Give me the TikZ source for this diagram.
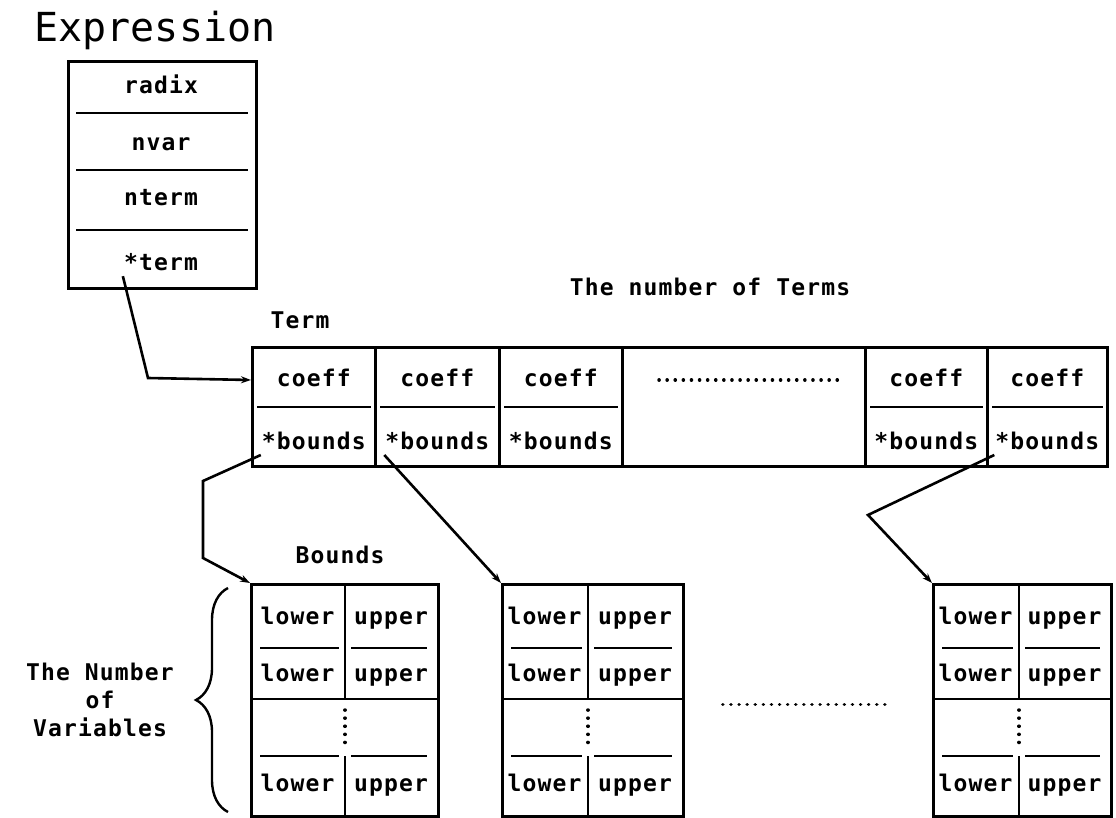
\documentclass[tikz,border=0pt]{standalone}
\usepackage{fontspec}
\setmonofont{DejaVu Sans Mono}
\newfontfamily\plotfont[LetterSpace=5]{DejaVu Sans Mono Bold}
\usetikzlibrary{positioning, arrows.meta, calc, decorations.pathreplacing}

\begin{document}
\begin{tikzpicture}[
        x=1pt, y=-1pt,
        >={Stealth[length=10pt, width=7pt]},
        cell/.style={draw, line width=2.8pt, inner sep=0pt, anchor=north west},
        sep/.style={line width=2pt},
        field/.style={font=\plotfont\fontsize{23}{26}\selectfont, inner sep=1pt, text height=16pt, text depth=4pt},
        caption/.style={font=\plotfont\fontsize{23}{28}\selectfont, align=center},
        title/.style={font=\ttfamily\fontsize{40}{44}\selectfont},
        ptr/.style={->, line width=2.6pt},
        dots/.style={line width=3.5pt, line cap=round, dash pattern=on 0.1pt off 8pt},
    ]
    \useasboundingbox (0,0) rectangle (1116,818);

    % Draw the expression record
    \node[title] (expr-title) at (155,30) {Expression};
    \node[cell, minimum width=188pt, minimum height=227pt] (expr) at (67,60) {};
    \foreach \name/\y in {radix/88, nvar/145, nterm/200}
        \node[field] (\name) at (161,\y) {\name};
    \node[field] (xterm) at (161,265) {*term};
    \foreach \y in {113,170,230}
        \draw[sep] (76,\y) -- (248,\y);

    % Draw the term array
    \node[caption] (term-title) at (300,320) {Term};
    \node[caption] (nterms) at (710,287) {The number of Terms};
    \foreach \i/\a/\b in {1/251/374, 2/374/498, 3/498/621, gap/621/864, 4/864/986, 5/986/1106} {
        \pgfmathsetmacro\w{\b-\a}
        \node[cell, minimum width=\w pt, minimum height=119pt] (term-\i) at (\a,346) {};
    }
    \foreach \i in {1,...,5} {
        \node[field] (coeff-\i) at ($(term-\i.north)+(0,34)$) {coeff};
        \node[field] (bnd-\i) at ($(term-\i.south)+(0,-24)$) {*bounds};
        \draw[sep] ([xshift=6pt]term-\i.west) -- ([xshift=-6pt]term-\i.east);
    }
    \draw[dots] ($(term-gap.west |- coeff-1)+(38,0)$) -- ($(term-gap.east |- coeff-1)+(-28,0)$);

    % Draw the bounds arrays
    \node[caption] (bnds-title) at (340,555) {Bounds};
    \foreach \i/\a/\m/\b in {1/250/345/437, 2/501/588/682, 3/932/1019/1110} {
        \pgfmathsetmacro\w{\b-\a}
        \pgfmathsetmacro\lx{(\a+\m)/2}
        \pgfmathsetmacro\ux{(\m+\b)/2}
        \node[cell, minimum width=\w pt, minimum height=232pt] (bnds-\i) at (\a,583) {};
        \foreach \r/\y in {1/618, 2/675, 3/785} {
            \node[field] (lo-\i-\r) at (\lx,\y) {lower};
            \node[field] (up-\i-\r) at (\ux,\y) {upper};
        }
        \foreach \y in {648,756} {
            \draw[sep] (\a+10,\y) -- (\m-6,\y);
            \draw[sep] (\m+6,\y) -- (\b-10,\y);
        }
        \draw[sep] (\a,699) -- (\b,699);
        \draw[line width=2.8pt] (\m,583) -- (\m,699);
        \draw[line width=2.8pt] (\m,756) -- (\m,815);
        \draw[dots] (\m,710) -- (\m,750);
    }
    \draw[dots] ($(bnds-2.east)+(38,4)$) -- ($(bnds-3.west)+(-42,4)$);

    % The number of variables
    \draw[line width=2.4pt, decorate, decoration={brace, amplitude=32pt}] (228,812) -- (228,588);
    \node[caption] (nvars) at (100,700) {The Number\\of\\Variables};

    % Connect the pointers
    \draw[ptr] (xterm.south west) -- (148,378) -- (coeff-1 -| term-1.west);
    \draw[ptr] (bnd-1.south west) -- (203,481) -- (203,558) -- (bnds-1.north west);
    \draw[ptr] (bnd-2.south west) .. controls (398,470) .. (bnds-2.north west);
    \draw[ptr] (bnd-5.south west) -- (868,515) -- (bnds-3.north west);
\end{tikzpicture}
\end{document}
